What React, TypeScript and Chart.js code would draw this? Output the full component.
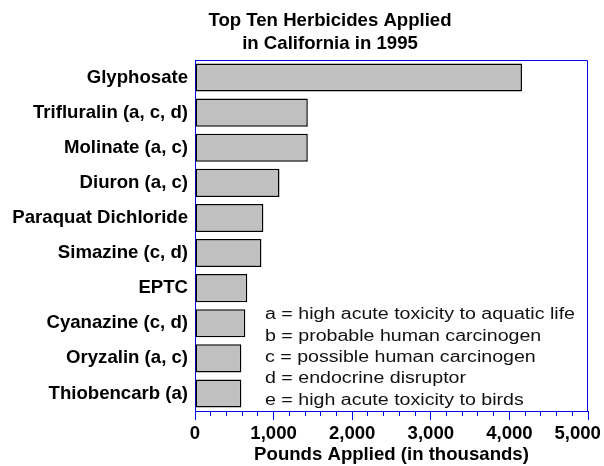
import React, { useEffect, useRef } from "react";
import { Chart, registerables } from "chart.js";

Chart.register(...registerables);

const titleLines = ["Top Ten Herbicides Applied", "in California in 1995"];
const herbicides = [
  "Glyphosate",
  "Trifluralin (a, c, d)",
  "Molinate (a, c)",
  "Diuron (a, c)",
  "Paraquat Dichloride",
  "Simazine (c, d)",
  "EPTC",
  "Cyanazine (c, d)",
  "Oryzalin (a, c)",
  "Thiobencarb (a)",
];
const poundsApplied = [4160, 1435, 1435, 1075, 870, 845, 665, 640, 590, 590];
const xMajorTicks = [0, 1000, 2000, 3000, 4000, 5000];
const xTickLabels = ["0", "1,000", "2,000", "3,000", "4,000", "5,000    "];
const xAxisTitle = "Pounds Applied (in thousands)";
const footnotes = [
  "a = high acute toxicity to aquatic life",
  "b = probable human carcinogen",
  "c = possible human carcinogen",
  "d = endocrine disruptor",
  "e = high acute toxicity to birds",
];

const FONT = "'Liberation Sans', Arial, Helvetica, sans-serif";
const BLUE = "#0000e0";
const FS = 18.6;

const framePlugin = {
  id: "frame",
  afterDraw(chart: any) {
    const { ctx, chartArea } = chart;
    ctx.save();
    ctx.strokeStyle = BLUE;
    ctx.lineWidth = 1;
    const t = Math.round(chartArea.top) + 0.5;
    const r = Math.round(chartArea.right) - 0.5;
    ctx.beginPath();
    ctx.moveTo(chartArea.left, t);
    ctx.lineTo(r, t);
    ctx.lineTo(r, chartArea.bottom);
    ctx.stroke();
    ctx.restore();
  },
};

const textPlugin = {
  id: "texts",
  afterDraw(chart: any) {
    const { ctx } = chart;
    ctx.save();
    ctx.fillStyle = "#000";
    ctx.textAlign = "center";
    ctx.textBaseline = "alphabetic";
    ctx.font = `bold ${FS}px ${FONT}`;
    titleLines.forEach((line, i) => {
      ctx.fillText(line, 330, 25.5 + i * 23);
    });
    ctx.textAlign = "left";
    ctx.font = `16px ${FONT}`;
    ctx.fillStyle = "#111";
    footnotes.forEach((line, i) => {
      ctx.save();
      ctx.translate(265, 319.3 + i * 21.35);
      ctx.scale(1.225, 1);
      ctx.fillText(line, 0, 0);
      ctx.restore();
    });
    ctx.restore();
  },
};

export default function App() {
  const ref = useRef<HTMLCanvasElement | null>(null);
  useEffect(() => {
    if (!ref.current) return;
    const chart = new Chart(ref.current, {
      type: "bar",
      data: {
        labels: herbicides,
        datasets: [
          {
            data: poundsApplied,
            backgroundColor: "#c0c0c0",
            borderColor: "#000",
            borderWidth: 1.5,
            borderSkipped: false,
            categoryPercentage: 1,
            barPercentage: 0.8,
          },
        ],
      },
      options: {
        indexAxis: "y",
        animation: false,
        responsive: false,
        layout: { padding: { top: 60, right: 16, left: 0, bottom: 0 } },
        plugins: {
          legend: { display: false },
          title: { display: false },
          tooltip: { enabled: false },
        },
        scales: {
          x: {
            type: "linear",
            min: 0,
            max: 5000,
            ticks: {
              stepSize: 200,
              autoSkip: false,
              maxRotation: 0,
              minRotation: 0,
              padding: 3,
              color: "#000",
              font: { family: FONT, size: FS, weight: "bold" },
              callback: (v: any) => {
                const idx = xMajorTicks.indexOf(Math.round(Number(v)));
                return idx >= 0 ? xTickLabels[idx] : "";
              },
            },
            grid: {
              drawOnChartArea: false,
              drawTicks: true,
              tickLength: 9,
              tickColor: BLUE,
              tickWidth: 1,
              tickBorderDash: (c: any) =>
                c.tick && xMajorTicks.indexOf(Math.round(c.tick.value)) >= 0 ? [] : [4, 30],
            },
            border: { color: BLUE, width: 1 },
            title: {
              display: true,
              text: xAxisTitle,
              color: "#000",
              font: { family: FONT, size: FS, weight: "bold" },
              padding: { top: 0, bottom: 0 },
            },
            afterFit: (s: any) => {
              s.height = 55;
              s.paddingLeft = 0;
              s.paddingRight = 0;
            },
          },
          y: {
            type: "category",
            offset: true,
            grid: { display: false, drawTicks: false },
            border: { color: BLUE, width: 1 },
            ticks: {
              padding: 7,
              color: "#000",
              font: { family: FONT, size: FS, weight: "bold" },
            },
            afterFit: (s: any) => {
              s.width = 195;
            },
          },
        },
      },
      plugins: [framePlugin, textPlugin],
    } as any);
    return () => chart.destroy();
  }, []);
  return (
    <div style={{ position: "fixed", left: 0, top: 0, width: 604, height: 466, background: "#fff" }}>
      <canvas ref={ref} width={604} height={466} style={{ display: "block" }} />
    </div>
  );
}
